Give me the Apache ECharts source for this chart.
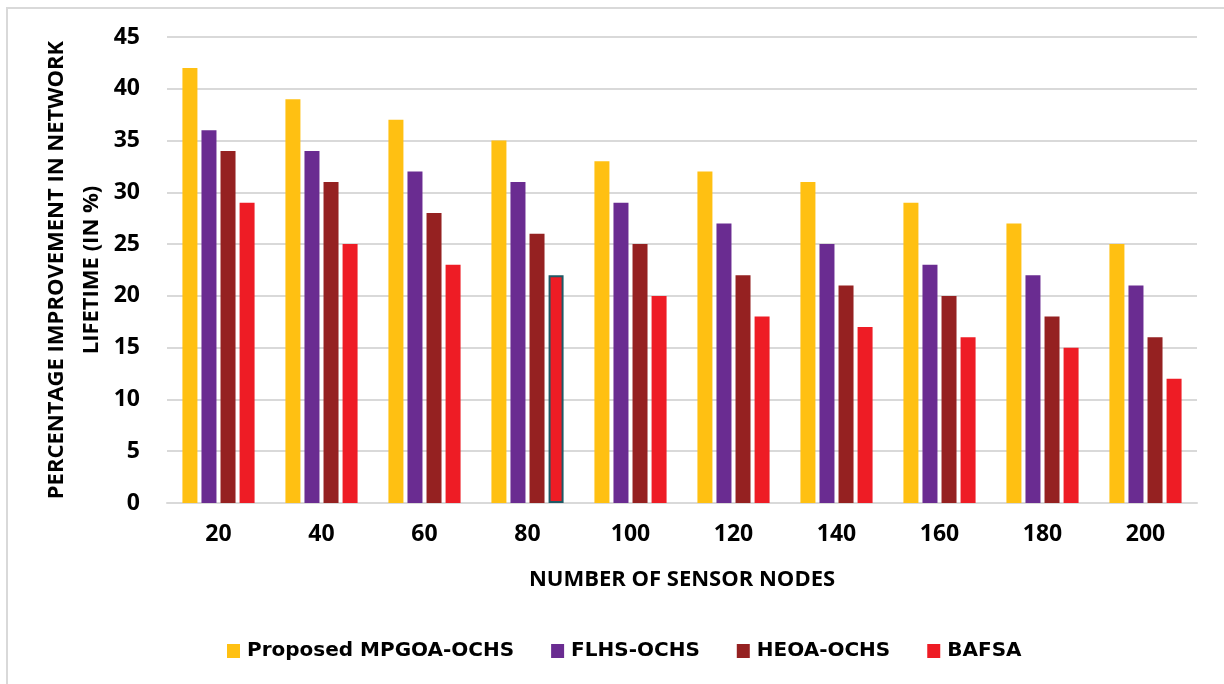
<!DOCTYPE html>
<html><head><meta charset="utf-8">
<script src="https://cdn.jsdelivr.net/npm/echarts@6/dist/echarts.min.js"></script>
<style>html,body{margin:0;padding:0;background:#fff}#c{width:1224px;height:684px}</style>
</head><body><div id="c"></div>
<script>
const categories = ['20','40','60','80','100','120','140','160','180','200'];
const seriesNames = ['Proposed MPGOA-OCHS','FLHS-OCHS','HEOA-OCHS','BAFSA'];
const proposed = [42,39,37,35,33,32,31,29,27,25];
const flhs = [36,34,32,31,29,27,25,23,22,21];
const heoa = [34,31,28,26,25,22,21,20,18,16];
const bafsa = [29,25,23,22,20,18,17,16,15,12];
const colors = ['#FFC012','#6A2C91','#952121','#EE1C25'];
const font = '"Open Sans", sans-serif';
const legendFont = '"DejaVu Sans", sans-serif';
const chart = echarts.init(document.getElementById('c'));
const all = [proposed, flhs, heoa, bafsa];
chart.setOption({
  animation:false,
  graphic:[{type:'rect',shape:{x:7,y:8,width:1300,height:800},style:{fill:'none',stroke:'#D9D9D9',lineWidth:2},z:-1}],
  grid:{left:167,right:27,top:37,bottom:181,outerBoundsMode:'none'},
  legend:{top:636,left:222,itemWidth:13,itemHeight:14,itemGap:37,icon:'rect',
    textStyle:{fontFamily:legendFont,fontWeight:'bold',fontSize:20,color:'#000',padding:[0,0,0,2]},data:seriesNames},
  xAxis:{type:'category',data:categories,
    axisLine:{lineStyle:{color:'#D9D9D9',width:2}},axisTick:{show:false},
    axisLabel:{fontFamily:font,fontWeight:'bold',fontSize:23,color:'#000',margin:20},
    name:'NUMBER OF SENSOR NODES',nameLocation:'middle',nameGap:66,
    nameTextStyle:{fontFamily:font,fontWeight:'bold',fontSize:22,color:'#000'}},
  yAxis:{type:'value',min:0,max:45,interval:5,
    axisLine:{show:false},axisTick:{show:false},
    splitLine:{lineStyle:{color:'#D9D9D9',width:2}},
    axisLabel:{fontFamily:font,fontWeight:'bold',fontSize:23,color:'#000',margin:27},
    name:'PERCENTAGE IMPROVEMENT IN NETWORK\nLIFETIME (IN %)',nameLocation:'middle',nameGap:58,nameMoveOverlap:false,
    nameTextStyle:{fontFamily:font,fontWeight:'bold',fontSize:22,color:'#000',lineHeight:35}},
  series: seriesNames.map((n,i)=>({
    name:n,type:'bar',barWidth:15,barGap:'27%',
    itemStyle:{color:colors[i]},
    data: all[i].map((v,j)=> (i===3 && j===3) ? {value:v,itemStyle:{borderColor:'#1F5A66',borderWidth:2}} : v)
  }))
});
</script></body></html>
